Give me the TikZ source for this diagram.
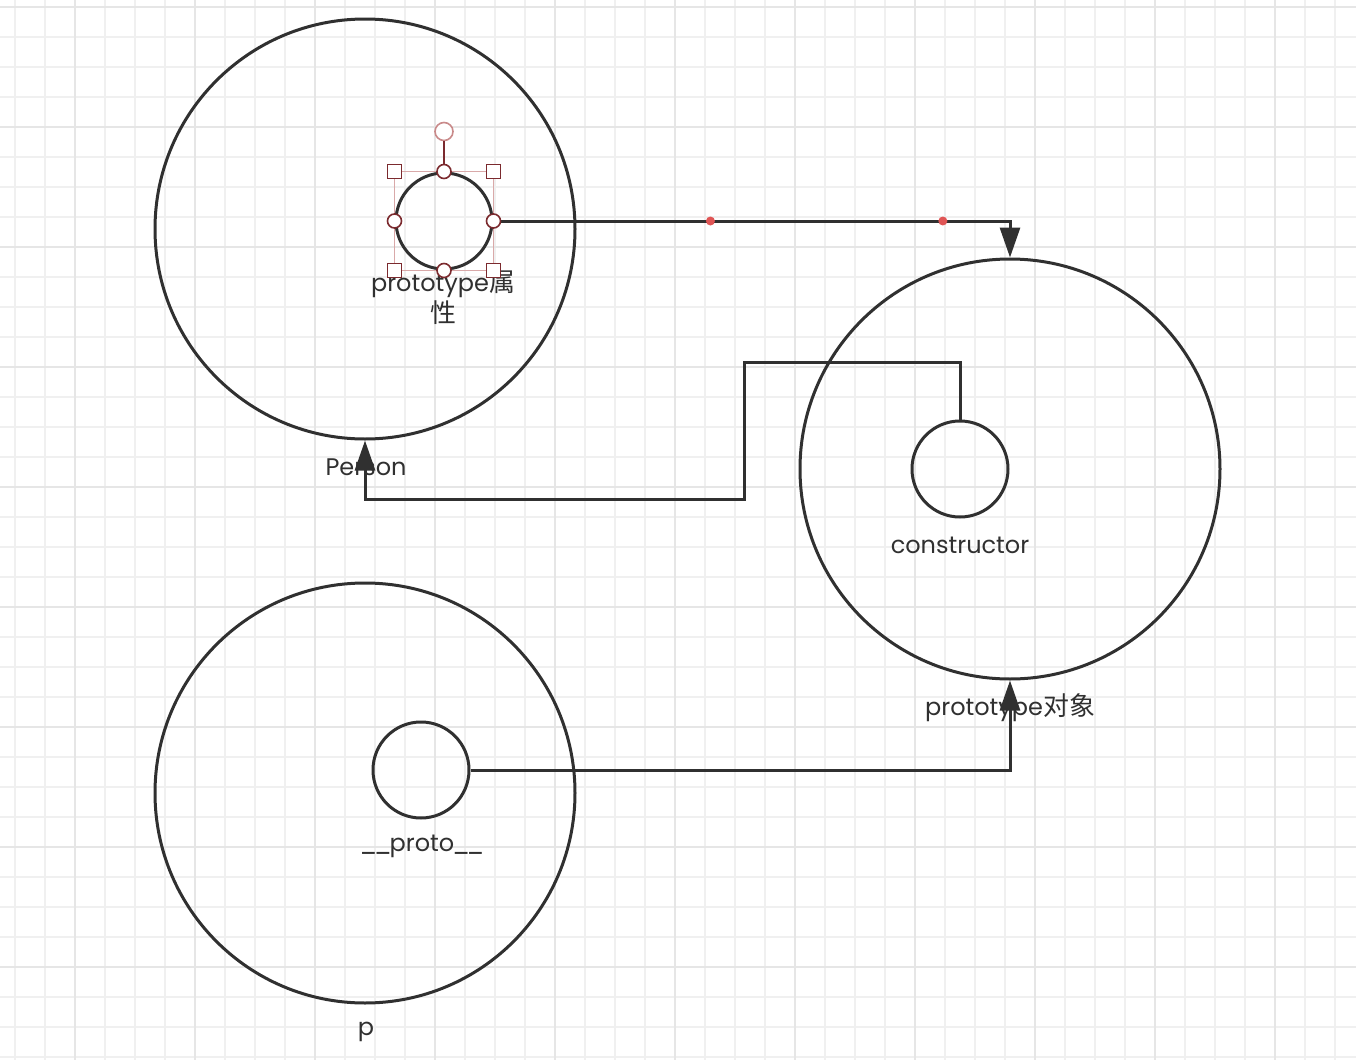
\documentclass[tikz,border=0pt]{standalone}
\usepackage{fontspec}
\setmainfont{Poppins}
\newfontfamily\cjk[Scale=1.08]{Noto Sans CJK SC}
\usetikzlibrary{arrows.meta}
\definecolor{ink}{HTML}{303030}
\definecolor{gridminor}{HTML}{F0F0F0}
\definecolor{gridmajor}{HTML}{E6E6E6}
\definecolor{handle}{HTML}{7B2A2E}
\definecolor{handlelt}{HTML}{D9A9A9}
\definecolor{rothandle}{HTML}{C98A8A}
\definecolor{dotred}{HTML}{E05555}
\tikzset{
  bigobj/.style={draw=ink,line width=1.5pt,circle,minimum size=210pt,inner sep=0pt},
  slot/.style={draw=ink,line width=1.5pt,circle,minimum size=48pt,inner sep=0pt},
  txt/.style={text=ink,font=\fontsize{12}{15.5}\selectfont,inner sep=0pt,align=center},
  link/.style={draw=ink,line width=1.5pt,-{Triangle[length=15pt,width=10pt]}},
  hsq/.style={draw=handle,fill=white,line width=0.8pt,minimum size=7pt,inner sep=0pt},
  hcirc/.style={hsq,circle},
  reddot/.style={circle,fill=dotred,minimum size=4.5pt,inner sep=0pt}
}

\begin{document}
\begin{tikzpicture}[x=0.5pt,y=-0.5pt]
  \useasboundingbox (0,0) rectangle (1356,1060);
  \fill[white] (0,0) rectangle (1356,1060);

  %background grid
  \foreach \gx in {15,45,...,1355} {
    \draw[gridminor,line width=1pt] (\gx,0) -- (\gx,1060);
  }
  \foreach \gy in {7,37,...,1059} {
    \draw[gridminor,line width=1pt] (0,\gy) -- (1356,\gy);
  }
  \foreach \gx in {75,195,...,1355} {
    \draw[gridmajor,line width=1pt] (\gx,0) -- (\gx,1060);
  }
  \foreach \gy in {7,127,...,1059} {
    \draw[gridmajor,line width=1pt] (0,\gy) -- (1356,\gy);
  }

  %objects
  \node[bigobj] (person) at (365,229) {};
  \node[bigobj] (ptobj) at (1010,469) {};
  \node[bigobj] (pinst) at (365,793) {};

  \node[slot] (pr) at (444,221) {};
  \node[slot] (ctor) at (960,469) {};
  \node[slot] (proto) at (421,770) {};

  %labels
  \node[txt] (personlbl) at (366,467) {Person};
  \node[txt] (ptobjlbl) at (1010,708) {prototype{\cjk 对象}};
  \node[txt] (pinstlbl) at (366,1032) {p};
  \node[txt] (prlbl) at (443,298) {prototype{\cjk 属}\\{\cjk 性}};
  \node[txt] (ctorlbl) at (960,545) {constructor};
  \node[txt] (protolbl) at (422,846) {\_\kern-1.6pt\_\kern-1pt proto\kern-1pt\_\kern-1.6pt\_};

  %links
  \draw[link] (pr.east) -| (ptobj.north)
    node[reddot,pos=0.21] (dotA) {}
    node[reddot,pos=0.435] (dotB) {};
  \coordinate (bendA) at (744,362);
  \coordinate (bendB) at (744,499);
  \draw[link] (ctor.north) |- (bendA) -- (bendB) -| (person.south);
  \draw[link] (proto.east) -| (ptobj.south);

  %selection handles
  \draw[handlelt,line width=0.8pt] (pr.north -| pr.west) rectangle (pr.south -| pr.east);
  \node[hcirc,draw=rothandle,minimum size=9pt] (rot) at ([yshift=20pt]pr.north) {};
  \draw[handle,line width=0.8pt] (pr.north) -- (rot);
  \foreach \c in {pr.north -| pr.west, pr.north -| pr.east,
                  pr.south -| pr.west, pr.south -| pr.east} {
    \node[hsq] at (\c) {};
  }
  \foreach \a in {north,south,east,west} {
    \node[hcirc] at (pr.\a) {};
  }
\end{tikzpicture}
\end{document}
